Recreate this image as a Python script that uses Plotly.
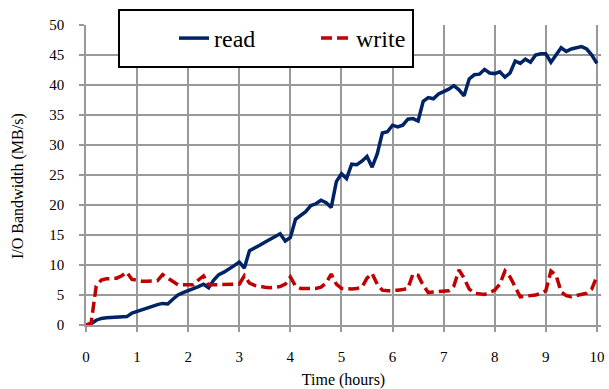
import plotly.graph_objects as go

time_hours = [round(i * 0.1, 1) for i in range(101)]

read_mbps = [
    0.0, 0.2, 0.8, 1.1, 1.2, 1.25, 1.3, 1.35, 1.4, 2.0,
    2.3, 2.6, 2.9, 3.2, 3.4, 3.6, 3.5, 4.3, 5.0, 5.4,
    5.7, 6.1, 6.4, 6.8, 6.2, 7.5, 8.4, 8.8, 9.3, 9.9,
    10.5, 9.5, 12.4, 12.8, 13.3, 13.8, 14.3, 14.8, 15.2, 14.0,
    14.6, 17.6, 18.2, 18.9, 19.9, 20.2, 20.8, 20.4, 19.6, 23.9,
    25.2, 24.4, 26.8, 26.7, 27.3, 28.1, 26.3, 28.5, 32.0, 32.2,
    33.3, 33.0, 33.3, 34.3, 34.4, 34.0, 37.3, 37.9, 37.7, 38.5,
    38.9, 39.3, 39.9, 39.2, 38.2, 41.0, 41.7, 41.8, 42.6, 42.0,
    41.9, 42.2, 41.3, 42.0, 44.0, 43.6, 44.3, 43.8, 45.0, 45.2,
    45.2, 43.8, 45.0, 46.2, 45.6, 46.0, 46.2, 46.4, 46.0, 45.0,
    43.6,
]

write_mbps = [
    0.0, 0.3, 6.5, 7.5, 7.7, 7.8, 7.8, 8.2, 8.8, 7.6,
    7.4, 7.3, 7.3, 7.3, 7.4, 8.4, 7.8, 7.2, 6.7, 6.7,
    6.7, 6.7, 7.5, 8.2, 6.7, 6.7, 6.7, 6.7, 6.7, 6.7,
    6.8, 8.2, 7.0, 6.6, 6.4, 6.3, 6.2, 6.3, 6.4, 6.8,
    8.0, 6.5, 6.1, 6.1, 6.1, 6.1, 6.3, 7.0, 8.5, 6.8,
    6.1, 6.0, 6.0, 6.1, 6.3, 7.8, 8.6, 6.8, 5.8, 5.7,
    5.7, 5.8, 5.9, 6.1, 8.5, 8.3, 6.6, 5.4, 5.5, 5.6,
    5.6, 5.7, 6.5, 9.2, 7.8, 6.0, 5.3, 5.2, 5.1, 5.4,
    5.8, 6.8, 9.0, 8.0, 6.2, 4.7, 4.8, 4.9, 5.0, 5.3,
    5.7, 9.0, 8.3, 5.5, 4.9, 4.7, 4.9, 5.1, 5.3, 6.0,
    8.1,
]

x_ticks = list(range(0, 11))
y_ticks = list(range(0, 51, 5))

FONT = "Liberation Serif"
GRID = "#999999"

fig = go.Figure()
fig.add_trace(go.Scatter(
    x=time_hours, y=read_mbps, mode="lines", name="read",
    line=dict(color="#002366", width=3.5),
))
fig.add_trace(go.Scatter(
    x=time_hours, y=write_mbps, mode="lines", name="write",
    line=dict(color="#C00000", width=3.5, dash="11px,5px"),
))

# legend frame
fig.add_shape(type="rect", xref="paper", yref="paper",
              x0=(119 - 86) / 515, x1=(413 - 86) / 515,
              y0=(325 - 67) / 300, y1=(325 - 10) / 300,
              fillcolor="white", line=dict(color="black", width=2),
              layer="above")

# y axis title
fig.add_annotation(
    text="I/O Bandwidth (MB/s)", textangle=-90,
    xref="paper", yref="paper",
    x=(18 - 86) / 515, y=(325 - 186) / 300,
    xanchor="center", yanchor="middle", showarrow=False,
    font=dict(family=FONT, size=16, color="black"),
)

fig.update_layout(
    width=609, height=389,
    margin=dict(l=86, r=8, t=25, b=64, autoexpand=False),
    paper_bgcolor="white", plot_bgcolor="white",
    font=dict(family=FONT, size=15, color="black"),
    showlegend=True,
    legend=dict(
        orientation="h",
        x=(174 - 86) / 515, xanchor="left",
        y=(325 - 38.5) / 300, yanchor="middle",
        bgcolor="rgba(0,0,0,0)", borderwidth=0,
        font=dict(family=FONT, size=24, color="black"),
        entrywidth=97, entrywidthmode="pixels",
    ),
    xaxis=dict(
        range=[0, 10.08], tickvals=x_ticks, ticktext=[str(v) for v in x_ticks],
        showgrid=True, gridcolor=GRID, gridwidth=1.5,
        showline=True, linecolor=GRID, linewidth=1.5,
        ticks="outside", ticklen=5, tickcolor=GRID, tickwidth=1.5,
        zeroline=False, ticklabelstandoff=12, automargin=False,
        tickfont=dict(family=FONT, size=15),
        title=dict(text="Time (hours)", font=dict(family=FONT, size=16), standoff=10),
    ),
    yaxis=dict(
        range=[0, 50], tickvals=y_ticks, ticktext=[str(v) for v in y_ticks],
        showgrid=True, gridcolor=GRID, gridwidth=1.5,
        showline=True, linecolor=GRID, linewidth=1.5,
        ticks="outside", ticklen=5, tickcolor=GRID, tickwidth=1.5,
        zeroline=False, ticklabelstandoff=12, automargin=False,
        tickfont=dict(family=FONT, size=15),
    ),
)

fig.write_html("out.html")
